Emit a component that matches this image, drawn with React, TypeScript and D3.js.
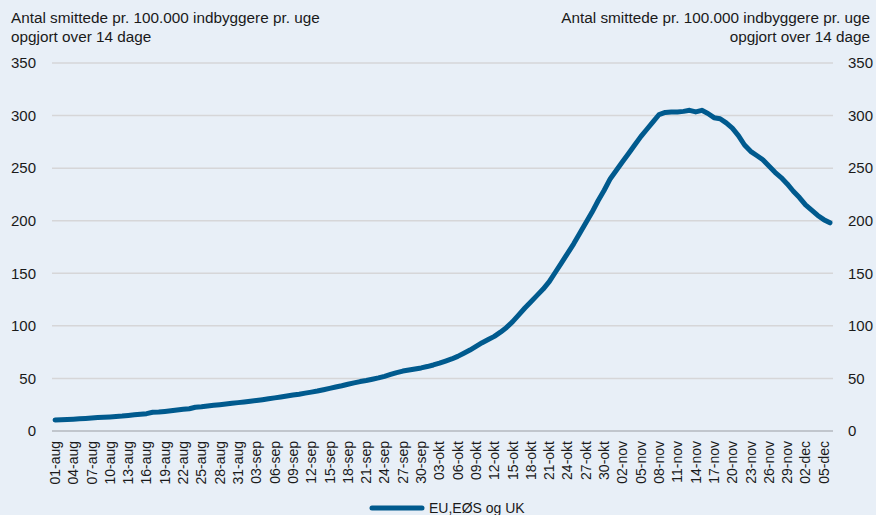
import React from 'react';
import * as d3 from 'd3';

const MONTHS = [
  { name: 'aug', days: 31 },
  { name: 'sep', days: 30 },
  { name: 'okt', days: 31 },
  { name: 'nov', days: 30 },
  { name: 'dec', days: 6 },
];

const dates: string[] = MONTHS.flatMap(m =>
  Array.from({ length: m.days }, (_, i) => `${String(i + 1).padStart(2, '0')}-${m.name}`)
);

// daily values, 01-aug .. 06-dec
const augValues = [
  10.5, 10.7, 10.9, 11.2, 11.6, 12.0, 12.4, 12.8, 13.1, 13.4, 13.8, 14.2, 14.8, 15.4, 16.0, 16.5,
  17.8, 18.0, 18.6, 19.3, 20.0, 20.6, 21.2, 22.6, 23.0, 23.7, 24.4, 25.0, 25.6, 26.3, 27.0,
];
const sepValues = [
  27.6, 28.3, 29.0, 29.8, 30.6, 31.5, 32.4, 33.3, 34.2, 35.0, 36.0, 37.0, 38.0, 39.2, 40.5,
  41.8, 43.0, 44.5, 45.8, 47.0, 48.0, 49.2, 50.5, 52.0, 53.8, 55.5, 57.0, 58.0, 59.0, 60.0,
];
const oktValues = [
  61.3, 62.8, 64.5, 66.5, 68.5, 71.0, 74.0, 77.0, 80.5, 84.0, 87.0, 90.0, 94.0, 98.5, 104,
  110.5, 117, 123, 129, 135, 142, 151, 160, 169, 178, 188, 198, 208, 219, 229, 240,
];
const novValues = [
  248, 256, 264, 272, 280, 287, 294, 301, 303, 303.5, 303.5, 304, 305, 303.5, 305,
  302, 298, 297, 293, 288, 281, 272, 266, 262, 258, 252, 246, 241, 235, 228,
];
const decValues = [222, 215, 210, 205, 201, 198];

const values = [...augValues, ...sepValues, ...oktValues, ...novValues, ...decValues];
const yTicks = [0, 50, 100, 150, 200, 250, 300, 350];
const seriesName = 'EU,EØS og UK';
const titleLines = ['Antal smittede pr. 100.000 indbyggere pr. uge', 'opgjort over 14 dage'];

const W = 876;
const H = 515;
const BG = '#e8eff7';
const LINE = '#005a8e';
const FONT = '"Liberation Sans", Arial, sans-serif';

const App: React.FC = () => {
  const x = d3.scaleBand<string>().domain(dates).range([52, 833]);
  const y = d3.scaleLinear().domain([0, 350]).range([431, 63]);
  const cx = (d: string) => (x(d) ?? 0) + x.bandwidth() / 2;

  const line = d3.line<number>()
    .x((_, i) => cx(dates[i]))
    .y(v => y(v));

  const labelled = dates.filter((_, i) => i % 3 === 0);

  return (
    <div style={{ position: 'fixed', left: 0, top: 0 }}>
      <svg width={W} height={H} style={{ display: 'block', background: BG, fontFamily: FONT }}>
        <rect width={W} height={H} fill={BG} />
        {titleLines.map((t, i) => (
          <text key={'l' + i} x={11} y={23 + i * 19} fontSize={15.3} fill="#1a1a1a">{t}</text>
        ))}
        {titleLines.map((t, i) => (
          <text key={'r' + i} x={870} y={23 + i * 19} fontSize={15.3} fill="#1a1a1a" textAnchor="end">{t}</text>
        ))}
        {yTicks.filter(t => t > 0).map(t => (
          <line key={t} x1={52} x2={833} y1={y(t)} y2={y(t)} stroke="#d6d6d8" strokeWidth={1.5} />
        ))}
        <line x1={52} x2={833} y1={y(0)} y2={y(0)} stroke="#9a9ea4" strokeWidth={1.2} />
        {yTicks.map(t => (
          <g key={'yt' + t} fontSize={15} fill="#1a1a1a">
            <text x={36} y={y(t)} dy="0.35em" textAnchor="end">{t}</text>
            <text x={848} y={y(t)} dy="0.35em">{t}</text>
          </g>
        ))}
        {labelled.map(d => (
          <text
            key={d}
            transform={`translate(${cx(d)},${y(0) + 10}) rotate(-90)`}
            textAnchor="end"
            dy="0.35em"
            fontSize={14}
            fill="#1a1a1a"
          >{d}</text>
        ))}
        <path d={line(values) ?? ''} fill="none" stroke={LINE} strokeWidth={5} strokeLinejoin="round" strokeLinecap="round" />
        <line x1={372} x2={422} y1={508} y2={508} stroke={LINE} strokeWidth={5} strokeLinecap="round" />
        <text x={429} y={508} dy="0.35em" fontSize={14} fill="#1a1a1a">{seriesName}</text>
      </svg>
    </div>
  );
};

export default App;
